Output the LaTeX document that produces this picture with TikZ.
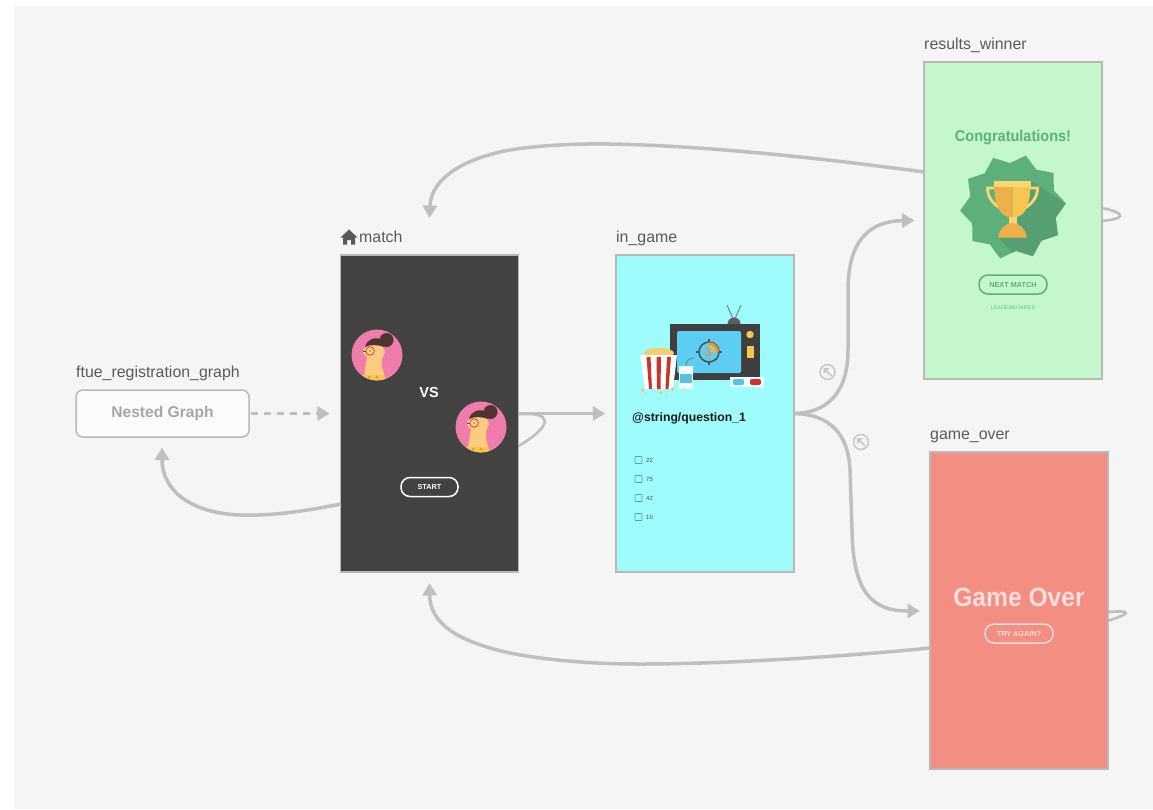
\documentclass[tikz,border=0pt]{standalone}
\usepackage{fontspec}
\setmainfont{Liberation Sans}
\newfontfamily\narrowbold[FakeStretch=0.93]{Liberation Sans}
\usetikzlibrary{arrows.meta,calc}
\definecolor{canvasbg}{HTML}{F5F5F5}
\definecolor{conn}{HTML}{BFBFBF}
\definecolor{lab}{HTML}{5A5A5A}
\definecolor{frame}{HTML}{B8B8B8}
\definecolor{dark}{HTML}{424242}
\definecolor{cyanbg}{HTML}{9FFCFC}
\definecolor{greenbg}{HTML}{C5F7CC}
\definecolor{redbg}{HTML}{F28F82}
\definecolor{grn}{HTML}{5DB07C}
\definecolor{grnd}{HTML}{559F72}
\definecolor{pinkav}{HTML}{F07CAC}
\definecolor{skin}{HTML}{FBCB80}
\definecolor{hair}{HTML}{4E3433}
\definecolor{ygold}{HTML}{F7C64F}
\definecolor{ogold}{HTML}{EDB04A}
\definecolor{lgold}{HTML}{FBD774}
\definecolor{tvdark}{HTML}{3F3F3F}
\definecolor{tvblue}{HTML}{5CCDF3}
\definecolor{popred}{HTML}{C8352C}
\definecolor{orng}{HTML}{F0932B}
\definecolor{teal}{HTML}{4FA5A5}
\tikzset{
  x=1pt,y=-1pt,
  screen/.style={draw=frame,line width=1.5pt,minimum width=178pt,minimum height=317pt,inner sep=0pt},
  titlelab/.style={text=lab,font=\fontsize{15.9}{17}\selectfont,anchor=base west,inner sep=0pt},
  flow/.style={draw=conn,line width=3.5pt,-{Triangle[length=12.5pt,width=14pt]}},
  loopline/.style={draw=conn,line width=2.6pt},
  pillbtn/.style={rounded corners=9pt,line width=1.5pt,minimum height=19pt,inner sep=0pt,font=\bfseries\fontsize{7.3}{8}\selectfont},
  txt/.style={inner sep=0pt},
  linkicon/.style={draw=conn!85!white,line width=1.6pt,circle,minimum size=15pt,inner sep=0pt},
}
\newcommand{\avatarpic}[2]{%
\begin{scope}[shift={(#1,#2)}]
  \fill[pinkav] (0,0) circle (25.5pt);
  \begin{scope}
    \clip (0,0) circle (25.3pt);
    \fill[skin] (-14,26) -- (-10,2) -- (-14,-2) -- (-14,-5) -- (-8,-12) -- (5,-12) -- (8,-3) -- (5,4) -- (5,12) -- (9,26) -- cycle;
    \fill[hair] (-12,-8) .. controls (-10,-16) and (-2,-19) .. (6,-15) -- (7,-8) .. controls (2,-10) and (-6,-11) .. (-12,-8) -- cycle;
    \fill[hair] (9.5,-15) circle (7pt);
    \fill[ygold] (-16,20) -- (6,20) -- (12,26) -- (-16,26) -- cycle;
    \fill[orng!80!ygold] (-8,22) circle (1.6pt) (0,22) circle (1.6pt);
  \end{scope}
  \draw[popred!85!black,line width=.6pt] (-7,-4) circle (4.3pt);
  \draw[popred!85!black,line width=.6pt] (-14,-4) -- (-11.3,-4);
  \fill[hair] (-7,-4) circle (.7pt);
\end{scope}}
\begin{document}
\begin{tikzpicture}
\useasboundingbox (0,0) rectangle (1153,809);
\fill[white] (0,0) rectangle (1153,809);
\fill[canvasbg] (14,6) rectangle (1153,809);

% connectors that lie under the screens
\coordinate (loopMa) at (517,414.5);
\coordinate (loopMb) at (517,447);
\coordinate (loopWa) at (1101,208);
\coordinate (loopWb) at (1101,221);
\coordinate (loopGa) at (1107,612);
\coordinate (loopGb) at (1107,621);
\draw[loopline] (loopMa) .. controls (552,411) and (556,424) .. (loopMb);
\draw[loopline] (loopWa) .. controls (1115,210) and (1136,218) .. (loopWb);
\draw[loopline] (loopGa) .. controls (1120,611) and (1142,610) .. (loopGb);

% screens
\node[screen,fill=dark] (match) at (429.5,413.5) {};
\node[screen,fill=cyanbg] (ingame) at (705,413.5) {};
\node[screen,fill=greenbg] (winner) at (1013,220.5) {};
\node[screen,fill=redbg] (gameover) at (1019,610.5) {};
\node[draw=frame,line width=1.5pt,fill=white!60!canvasbg,rounded corners=7pt,minimum width=173pt,minimum height=47pt,inner sep=0pt,text=black!35,font=\bfseries\fontsize{15.6}{17}\selectfont] (nested) at (162.5,413.5) {\raisebox{-1.5pt}{Nested Graph}};

% titles
\node[titlelab] (tnested) at (76,377.5) {ftue\_registration\_graph};
\node[titlelab] (tmatch) at (359,242.5) {match};
\node[titlelab] (tingame) at (616,242.5) {in\_game};
\node[titlelab] (twinner) at (924,49.5) {results\_winner};
\node[titlelab] (tover) at (930,439.5) {game\_over};
\fill[lab] (349,229.5) -- (357.5,237.5) -- (355,237.5) -- (355,244.5) -- (351,244.5) -- (351,240) -- (347,240) -- (347,244.5) -- (343,244.5) -- (343,237.5) -- (340.5,237.5) -- cycle;

% connectors
\coordinate (mLeft) at (341,504);
\coordinate (wLeft) at (924,172);
\coordinate (gLeft) at (930,648);
\coordinate (toMatchTop) at (429.5,218);
\coordinate (toMatchBot) at (429.5,583);
\coordinate (toNested) at (162,447.5);
\coordinate (toWinner) at (914.5,220.5);
\coordinate (toOver) at (920,611);
\coordinate (igOut) at (794,413.5);
\draw[flow,dash pattern=on 7pt off 6pt,shorten <=1pt] (nested.east) -- ($(match.west)+(-10,0)$);
\draw[flow,shorten >=10pt] (match.east) -- (ingame.west);
\draw[flow] (mLeft) .. controls (300,512) and (270,516) .. (240,515) .. controls (190,513) and (162,490) .. (toNested);
\draw[flow] (wLeft) .. controls (850,162) and (720,146) .. (610,144) .. controls (580,143.5) and (540,145) .. (510,150) .. controls (465,158) and (431,178) .. (toMatchTop);
\draw[flow] (gLeft) .. controls (850,656) and (730,664) .. (640,664) .. controls (590,664) and (545,660) .. (510,653) .. controls (460,642) and (430,625) .. (toMatchBot);
\draw[flow] (igOut) .. controls (825,413) and (848,395) .. (848,350) -- (848,290) .. controls (848,240) and (870,221) .. (toWinner);
\draw[flow] (igOut) .. controls (820,414) and (848,425) .. (850,470) -- (852,530) .. controls (853,590) and (870,611) .. (toOver);

% deep-link icons
\node[linkicon] (dlA) at (827.5,372) {};
\node[linkicon] (dlB) at (861,442) {};
\foreach \c in {dlA,dlB}{
  \fill[conn!85!white] ($(\c)+(-4,-4)$) -- ($(\c)+(2,-4)$) -- ($(\c)+(-4,2)$) -- cycle;
  \draw[conn!85!white,line width=1.6pt] ($(\c)+(-2,-2)$) -- ($(\c)+(4,4)$);
}

% match screen
\avatarpic{377}{355}
\avatarpic{481}{427}
\node[txt,text=white,font=\bfseries\fontsize{14.5}{16}\selectfont] (vs) at (429,393) {VS};
\node[pillbtn,draw=white,text=white,minimum width=57pt] (start) at (429.5,487) {START};

% in_game screen: television
\draw[tvdark!70,line width=.9pt] (734,321) -- (727,305) (734,321) -- (741,305);
\fill[tvdark!85] (727.5,324) arc[start angle=180,end angle=0,radius=6.5pt] -- cycle;
\fill[tvdark] (670,324) rectangle (760,380);
\fill[tvblue,rounded corners=1.5pt] (677,331) rectangle (741,373);
\fill[ygold] (750,334.5) circle (3.7pt);
\fill[ygold] (747,346) rectangle (754,358);
\draw[tvdark!90,line width=1.6pt] (709,352) circle (10pt);
\fill[orng] (709,352) -- (709,342) arc[start angle=90,end angle=0,radius=10pt] -- cycle;
\fill[ygold!60!tvblue] (709,352) -- (709,345) arc[start angle=90,end angle=0,radius=7pt] -- cycle;
\draw[tvdark!90,line width=1.2pt] (709,339) -- (709,342) (709,362) -- (709,365) (696,352) -- (699,352) (719,352) -- (722,352);
\node[txt,text=orng,font=\bfseries\fontsize{12}{12}\selectfont] (three) at (708.5,352) {3};
% popcorn
\fill[ygold!85!white] (659,353) ellipse (15pt and 5pt);
\fill[white] (640,355) -- (677,355) -- (673,389) -- (645,389) -- cycle;
\fill[popred] (646.5,357) -- (650.5,357) -- (652,389) -- (649,389) -- cycle;
\fill[popred] (656.5,357) -- (661,357) -- (660.5,389) -- (657,389) -- cycle;
\fill[popred] (667,357) -- (671,357) -- (668.5,389) -- (665.5,389) -- cycle;
\fill[ygold] (642.5,390) circle (1.8pt) (661,393) circle (1.8pt) (672.5,389) circle (1.8pt);
% cup
\fill[white!85!cyanbg] (679,366) rectangle (693,389);
\fill[tvblue!70!teal] (680,374) rectangle (692,383);
\draw[tvdark!70,line width=.8pt] (686,366) .. controls (686,361) and (689,358) .. (694,358);
% glasses
\fill[white!85!cyanbg] (730,377) rectangle (763.5,387);
\fill[tvblue!70!teal,rounded corners=2pt] (733,379) rectangle (744,385);
\fill[popred,rounded corners=2pt] (750,379) rectangle (761,385);
\node[txt,anchor=base west,text=black!90,font=\bfseries\fontsize{12.2}{14}\selectfont] (question) at (632,421) {@string/question\_1};
\foreach \yy/\t in {460/22,479/75,498/42,517/10}{
  \draw[teal,line width=.7pt,rounded corners=.5pt] (635,\yy-3.5) rectangle (642,\yy+3.5);
  \node[txt,anchor=west,text=black!70,font=\fontsize{6}{6}\selectfont] (opt\t) at (646,\yy+.5) {\t};
}

% winner screen
\node[txt,text=grn,font=\narrowbold\bfseries\fontsize{15.6}{17}\selectfont] (congrats) at (1013,137) {Congratulations!};
\begin{scope}[shift={(1013,207)}]
  \fill[grn] plot[samples at={0,...,19},variable=\t] ({(mod(\t,2)==0?53:44)*cos(76-18*\t)},{-(mod(\t,2)==0?53:44)*sin(76-18*\t)}) -- cycle;
  \begin{scope}
    \clip plot[samples at={0,...,19},variable=\t] ({(mod(\t,2)==0?53:44)*cos(76-18*\t)},{-(mod(\t,2)==0?53:44)*sin(76-18*\t)}) -- cycle;
    \fill[grnd] (17,-27) -- (60,2) -- (60,60) -- (12,60) -- (-14,30.5) -- (14,30.5) -- (4,16) -- (4,-20) -- cycle;
  \end{scope}
\end{scope}
\draw[lgold,line width=2.8pt] (995,188) -- (987.5,188) .. controls (987.5,196) and (992,204) .. (1002,209);
\draw[lgold,line width=2.8pt] (1030,188) -- (1037.5,188) .. controls (1037.5,196) and (1033,204) .. (1023,209);
\fill[ogold] (994,186.5) -- (1012.5,186.5) -- (1012.5,217) -- (1008.5,217) .. controls (1002,215.5) and (995,210) .. (994,186.5) -- cycle;
\fill[ygold] (1030.5,186.5) -- (1012.5,186.5) -- (1012.5,217) -- (1016.5,217) .. controls (1023,215.5) and (1029.5,210) .. (1030.5,186.5) -- cycle;
\fill[lgold] (994,180.5) rectangle (1030.5,186.5);
\fill[lgold] (1008.5,217) rectangle (1017,224);
\fill[ogold] (998,237.5) .. controls (1000,228) and (1006,223) .. (1012.5,223) .. controls (1019,223) and (1025,228) .. (1027,237.5) -- cycle;
\node[pillbtn,draw=grn,text=grn,minimum width=68pt] (next) at (1013,284.5) {NEXT MATCH};
\node[txt,text=grn!80!greenbg,font=\fontsize{5.4}{6}\selectfont] (leader) at (1013,308) {LEADERBOARDS};

% game over screen
\node[txt,text=white!70!redbg,font=\narrowbold\bfseries\fontsize{26.5}{28}\selectfont] (gotext) at (1019,597.5) {Game Over};
\node[pillbtn,draw=white!70!redbg,text=white!70!redbg,minimum width=68pt] (again) at (1019,633.5) {TRY AGAIN?};
\end{tikzpicture}
\end{document}
